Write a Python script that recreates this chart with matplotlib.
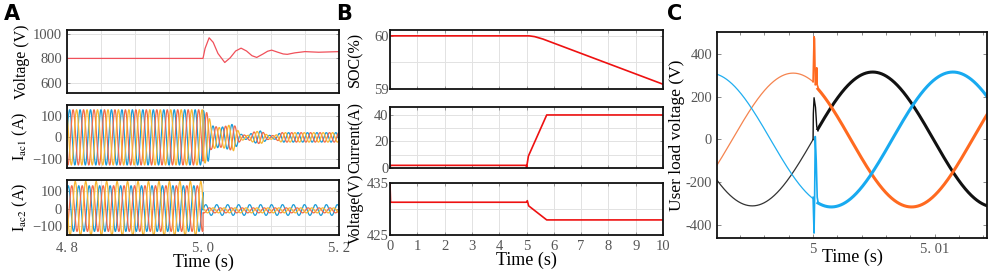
import numpy as np
import matplotlib
matplotlib.use("Agg")
import matplotlib.pyplot as plt
from matplotlib.ticker import FixedLocator, FixedFormatter, MultipleLocator

plt.rcParams['font.family'] = ['Liberation Serif', 'DejaVu Serif']
plt.rcParams['mathtext.fontset'] = 'stix'

# ---------------- data: panel A ----------------
# DC voltage (V), key points
va_t = [4.8, 5.0, 5.003, 5.009, 5.015, 5.022, 5.032, 5.04, 5.048, 5.056, 5.064,
        5.072, 5.079, 5.088, 5.095, 5.101, 5.11, 5.118, 5.124, 5.135, 5.15, 5.17, 5.2]
va_v = [800, 800, 880, 967, 930, 840, 767, 805, 860, 883, 860,
        822, 808, 835, 858, 867, 850, 836, 833, 845, 855, 850, 855]

# three-phase AC currents: frequency (Hz), amplitudes (A), phase angles (deg)
ac_freq_pre = 65
ac1_freq_post = 72
ac2_freq_post = 62
ac_phase_deg = [0, -120, 120]              # blue, red, yellow
ac1_amp_pre = [128, 128, 128]
ac2_amp_pre = [128, 128, 152]
# Iac1 envelope after the fault
ac1_env_t = [5.0, 5.008, 5.012, 5.025, 5.045, 5.055, 5.065, 5.075, 5.085, 5.095, 5.105, 5.115, 5.2]
ac1_env_a = [125, 110, 55, 45, 62, 15, 8, 25, 30, 10, 8, 22, 22]
# Iac2 after the fault: amplitude and offset per phase
ac2_amp_post = [30, 14, 14]
ac2_off_post = [-8, -10, -10]

# ---------------- data: panel B ----------------
soc_t = [0, 5.1, 5.3, 5.6, 10]
soc_v = [60, 60, 59.985, 59.94, 59.09]
cur_t = [0, 0.02, 5.0, 5.0, 5.07, 5.74, 10]
cur_v = [0, 2, 2, 0, 9, 40, 40]
bv_t = [0, 0.02, 5.0, 5.03, 5.08, 5.74, 10]
bv_v = [435, 431.3, 431.3, 431.6, 430.6, 427.9, 427.9]

# ---------------- data: panel C ----------------
grid_freq = 50
c_amp_pre = 310
c_amp_post = 315
# time of positive peak of each phase before / after the switching instant
c_peak_pre = {'blue': 4.9915, 'orange': 4.99836, 'black': 4.985}
c_peak_post = {'blue': 5.0115, 'orange': 4.9981, 'black': 5.0049}
# transient at t = 5 s
tr_orange_t = [5.0, 5.00008, 5.00012, 5.00018, 5.00026, 5.0003, 5.00034, 5.0004]
tr_orange_v = [270, 480, 470, 255, 260, 335, 255, 245]
tr_blue_t = [5.0, 5.00008, 5.00012, 5.00018, 5.00026, 5.00034, 5.0004]
tr_blue_v = [-270, -437, -300, 14, -100, -270, -290]
tr_black_t = [5.0, 5.00002, 5.00008, 5.0002, 5.0003, 5.0004]
tr_black_v = [0, 120, 195, 150, 60, 40]

c_xlim = (4.9921, 5.0143)

BLUE = '#1a9bd7'
RED = '#f26a4b'
YEL = '#f7b733'
GRIDC = '#e2e2e2'
TICKC = '#555555'

fig = plt.figure(figsize=(9.89, 2.71), dpi=100)


def style(ax, minor_x=None, minor_y=None):
    for s in ax.spines.values():
        s.set_linewidth(1.3)
        s.set_color('#111111')
    ax.tick_params(which='both', direction='in', top=True, right=True,
                   labelsize=10.5, labelcolor=TICKC, length=2.5, width=0.6, color='#888888')
    ax.tick_params(which='minor', length=0)
    if minor_x is not None:
        ax.xaxis.set_minor_locator(MultipleLocator(minor_x))
    if minor_y is not None:
        ax.yaxis.set_minor_locator(MultipleLocator(minor_y))
    ax.grid(True, which='both', color=GRIDC, lw=0.7)
    ax.set_axisbelow(True)


# ---------------- panel A ----------------
W_A = 272 / 989
axA1 = fig.add_axes([67 / 989, 1 - 93 / 271, W_A, 63 / 271])
axA2 = fig.add_axes([67 / 989, 1 - 168 / 271, W_A, 63 / 271])
axA3 = fig.add_axes([67 / 989, 1 - 235 / 271, W_A, 55 / 271])

axA1.plot(va_t, va_v, color='#f0505a', lw=0.9)
axA1.set_ylim(520, 1030)
axA1.set_yticks([600, 800, 1000])

t = np.linspace(4.8, 5.2, 6000)
pre = t < 5.0
cols = [BLUE, RED, YEL]
env1 = np.interp(t, ac1_env_t, ac1_env_a)
for k in range(3):
    ph = np.deg2rad(ac_phase_deg[k])
    y1 = np.where(pre, ac1_amp_pre[k] * np.sin(2 * np.pi * ac_freq_pre * (t - 4.8) + ph),
                  env1 * np.sin(2 * np.pi * ac1_freq_post * (t - 5.0) + ph + 1.2))
    axA2.plot(t, y1, color=cols[k], lw=0.9)
    y2 = np.where(pre, ac2_amp_pre[k] * np.sin(2 * np.pi * ac_freq_pre * (t - 4.8) + ph + 0.8),
                  ac2_off_post[k] + ac2_amp_post[k] * np.sin(2 * np.pi * ac2_freq_post * (t - 5.0) + ph))
    axA3.plot(t, y2, color=cols[k], lw=0.9)

axA2.set_ylim(-142, 150)
axA3.set_ylim(-148, 160)
for ax in (axA2, axA3):
    ax.set_yticks([-100, 0, 100])
    ax.set_yticklabels(['\u2212100', '0', '100'])

for ax in (axA1, axA2, axA3):
    ax.set_xlim(4.8, 5.2)
    ax.set_xticks([4.8, 5.0, 5.2])
    style(ax, minor_x=0.05)
    ax.yaxis.set_label_coords(-0.135, 0.5)
axA1.tick_params(labelbottom=False)
axA2.tick_params(labelbottom=False)
axA3.set_xticklabels(['4. 8', '5. 0', '5. 2'])
axA1.set_ylabel('Voltage (V)', fontsize=11.5)
axA2.set_ylabel(r'I$_{\mathrm{ac1}}$ (A)', fontsize=11.5)
axA3.set_ylabel(r'I$_{\mathrm{ac2}}$ (A)', fontsize=11.5)
axA3.set_xlabel('Time (s)', fontsize=13, labelpad=-1)
axA3.tick_params(axis='x', pad=5)

# ---------------- panel B ----------------
W_B = 273 / 989
axB1 = fig.add_axes([390 / 989, 1 - 89 / 271, W_B, 59 / 271])
axB2 = fig.add_axes([390 / 989, 1 - 168 / 271, W_B, 61 / 271])
axB3 = fig.add_axes([390 / 989, 1 - 235 / 271, W_B, 52 / 271])

axB1.plot(soc_t, soc_v, color='#ee1111', lw=1.2)
axB1.set_ylim(59, 60.11)
axB1.set_yticks([59, 60])
style(axB1, minor_x=None, minor_y=0.5)
axB1.set_ylabel('SOC(%)', fontsize=11.5)

axB2.plot(cur_t, cur_v, color='#ee1111', lw=1.2)
axB2.set_ylim(0, 46)
axB2.set_yticks([0, 20, 40])
style(axB2, minor_y=10)
axB2.set_ylabel('Current(A)', fontsize=11.5)

axB3.plot(bv_t, bv_v, color='#ee1111', lw=1.2)
axB3.set_ylim(425, 435)
axB3.set_yticks([425, 435])
style(axB3, minor_y=5)
axB3.set_ylabel('Voltage(V)', fontsize=11.5)

for ax in (axB1, axB2, axB3):
    ax.set_xlim(0, 10)
    ax.set_xticks(range(0, 11))
    ax.yaxis.set_label_coords(-0.097, 0.5)
    ax.tick_params(axis='y', pad=1)
axB1.tick_params(labelbottom=False)
axB2.tick_params(labelbottom=False)
axB3.set_xlabel('Time (s)', fontsize=13, labelpad=-1)

# ---------------- panel C ----------------
axC = fig.add_axes([717 / 989, 1 - 238 / 271, 270 / 989, 206 / 271])
c_cols = {'blue': '#18aaf0', 'orange': '#ff6a20', 'black': '#111111'}
c_cols_pre = {'blue': '#20aef0', 'orange': '#f5844f', 'black': '#333333'}
tp = np.linspace(c_xlim[0], 5.0, 800)
tq = np.linspace(5.0004, c_xlim[1], 1600)
w = 2 * np.pi * grid_freq
for name in ('black', 'orange', 'blue'):
    axC.plot(tp, c_amp_pre * np.cos(w * (tp - c_peak_pre[name])), color=c_cols_pre[name], lw=0.9)
    axC.plot(tq, c_amp_post * np.cos(w * (tq - c_peak_post[name])), color=c_cols[name], lw=2.2)
axC.plot(tr_black_t, tr_black_v, color=c_cols['black'], lw=1.0)
axC.plot(tr_orange_t, tr_orange_v, color=c_cols['orange'], lw=1.2)
axC.plot(tr_blue_t, tr_blue_v, color=c_cols['blue'], lw=1.2)

axC.set_xlim(*c_xlim)
axC.set_ylim(-460, 502)
axC.xaxis.set_major_locator(FixedLocator([5.0, 5.01]))
axC.xaxis.set_major_formatter(FixedFormatter(['5', '5. 01']))
axC.xaxis.set_minor_locator(MultipleLocator(0.002))
axC.set_yticks([-400, -200, 0, 200, 400])
axC.set_yticklabels(['-400', '-200', '0', '200', '400'])
for s in axC.spines.values():
    s.set_linewidth(1.3)
    s.set_color('#111111')
axC.tick_params(which='both', direction='in', top=True, right=True,
                labelsize=10.5, labelcolor=TICKC, color='#777777', width=0.6)
axC.tick_params(which='major', length=3)
axC.tick_params(which='minor', length=2.5)
axC.set_ylabel('User load voltage (V)', fontsize=12.5)
axC.yaxis.set_label_coords(-0.118, 0.5)
axC.set_xlabel('Time (s)', fontsize=13, labelpad=-5)

# panel letters
for x, lab in ((4, 'A'), (336, 'B'), (667, 'C')):
    fig.text(x / 989, 1 - 4 / 271, lab, fontsize=15, fontweight='bold',
             family='DejaVu Sans', va='top', ha='left')

fig.savefig('out.png', dpi=100)
